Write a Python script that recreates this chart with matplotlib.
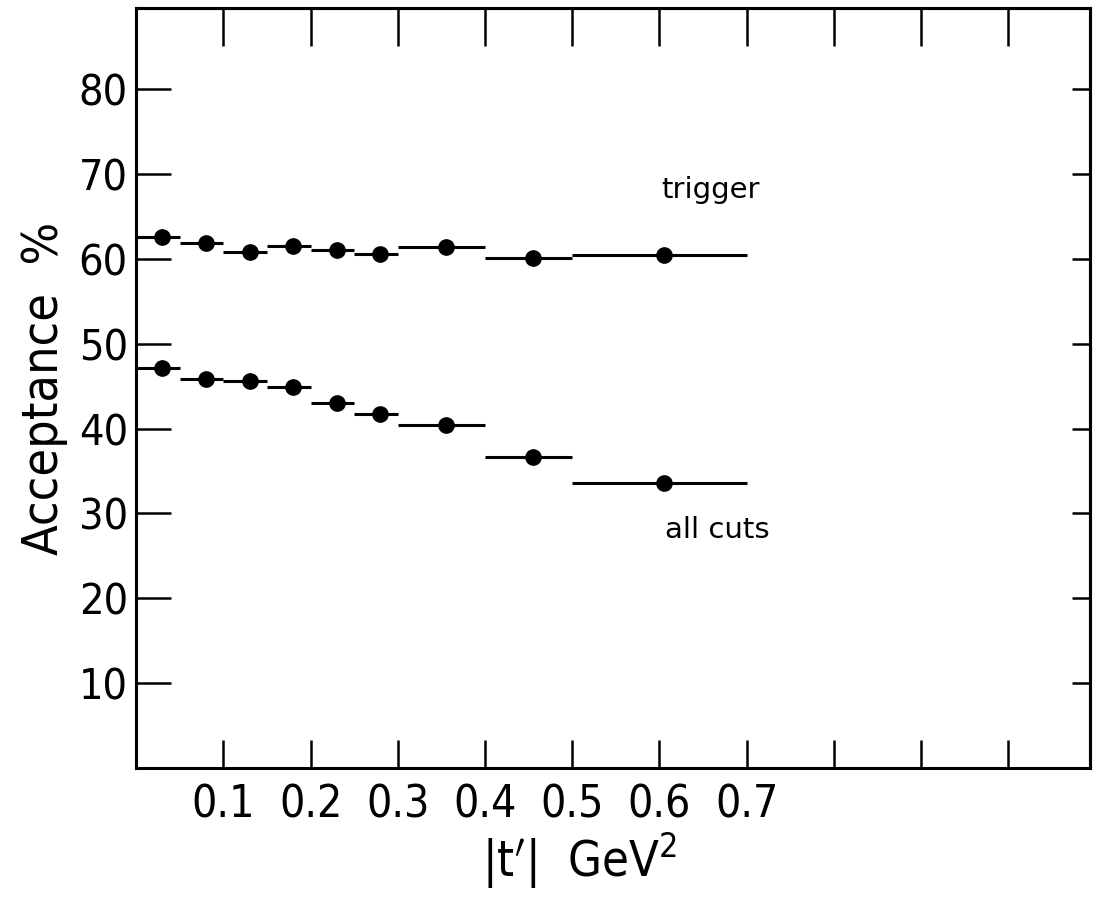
import matplotlib
matplotlib.use('Agg')
import matplotlib.pyplot as plt

# bin edges in |t'| and the point positions inside each bin
bin_lo = [0.0, 0.05, 0.10, 0.15, 0.20, 0.25, 0.30, 0.40, 0.50]
bin_hi = [0.05, 0.10, 0.15, 0.20, 0.25, 0.30, 0.40, 0.50, 0.70]
t_pts = [0.03, 0.08, 0.13, 0.18, 0.23, 0.28, 0.355, 0.455, 0.605]

trigger = [62.6, 61.9, 60.8, 61.5, 61.1, 60.6, 61.4, 60.1, 60.5]
all_cuts = [47.1, 45.8, 45.6, 44.9, 43.0, 41.7, 40.4, 36.6, 33.6]

x_ticks = [0.1, 0.2, 0.3, 0.4, 0.5, 0.6, 0.7, 0.8, 0.9, 1.0]
x_labels = ['0.1', '0.2', '0.3', '0.4', '0.5', '0.6', '0.7', '', '', '']
y_ticks = [10, 20, 30, 40, 50, 60, 70, 80]

plt.rcParams['font.family'] = ['DejaVu Sans']
plt.rcParams['font.stretch'] = 'condensed'

fig = plt.figure(figsize=(10.98, 8.99), dpi=100)
ax = fig.add_axes([0.124, 0.146, 0.869, 0.845])

xerr_lo = [t - lo for t, lo in zip(t_pts, bin_lo)]
xerr_hi = [hi - t for t, hi in zip(t_pts, bin_hi)]

for vals in (trigger, all_cuts):
    ax.errorbar(t_pts, vals, xerr=[xerr_lo, xerr_hi], fmt='o', color='black',
                markersize=11, elinewidth=2.2, capsize=0)

ax.set_xlim(0, 1.094)
ax.set_ylim(0, 89.6)

for s in ax.spines.values():
    s.set_linewidth(2.2)

ax.set_xticks(x_ticks)
ax.set_xticklabels(x_labels)
ax.set_yticks(y_ticks)
ax.tick_params(axis='x', direction='in', length=20, width=1.8,
               labelsize=32, pad=11)
ax.tick_params(axis='y', direction='in', length=25, width=1.8,
               labelsize=31, pad=6)

top = ax.secondary_xaxis('top')
top.set_xticks(x_ticks)
top.tick_params(direction='in', length=27, width=1.8, labeltop=False)
top.spines['top'].set_linewidth(2.2)

right = ax.secondary_yaxis('right')
right.set_yticks(y_ticks)
right.tick_params(direction='in', length=13, width=1.8, labelright=False)
right.spines['right'].set_linewidth(2.2)

ax.set_ylabel('Acceptance  %', fontsize=36, labelpad=8)
ax.set_xlabel("$|$t$'|$  GeV$^2$", fontsize=35, labelpad=3, x=0.465)

ax.text(0.658, 68.1, 'trigger', fontsize=21, fontstretch='normal',
        ha='center', va='center')
ax.text(0.666, 28.0, 'all cuts', fontsize=21, fontstretch='normal',
        ha='center', va='center')

fig.savefig('out.png', dpi=100)
